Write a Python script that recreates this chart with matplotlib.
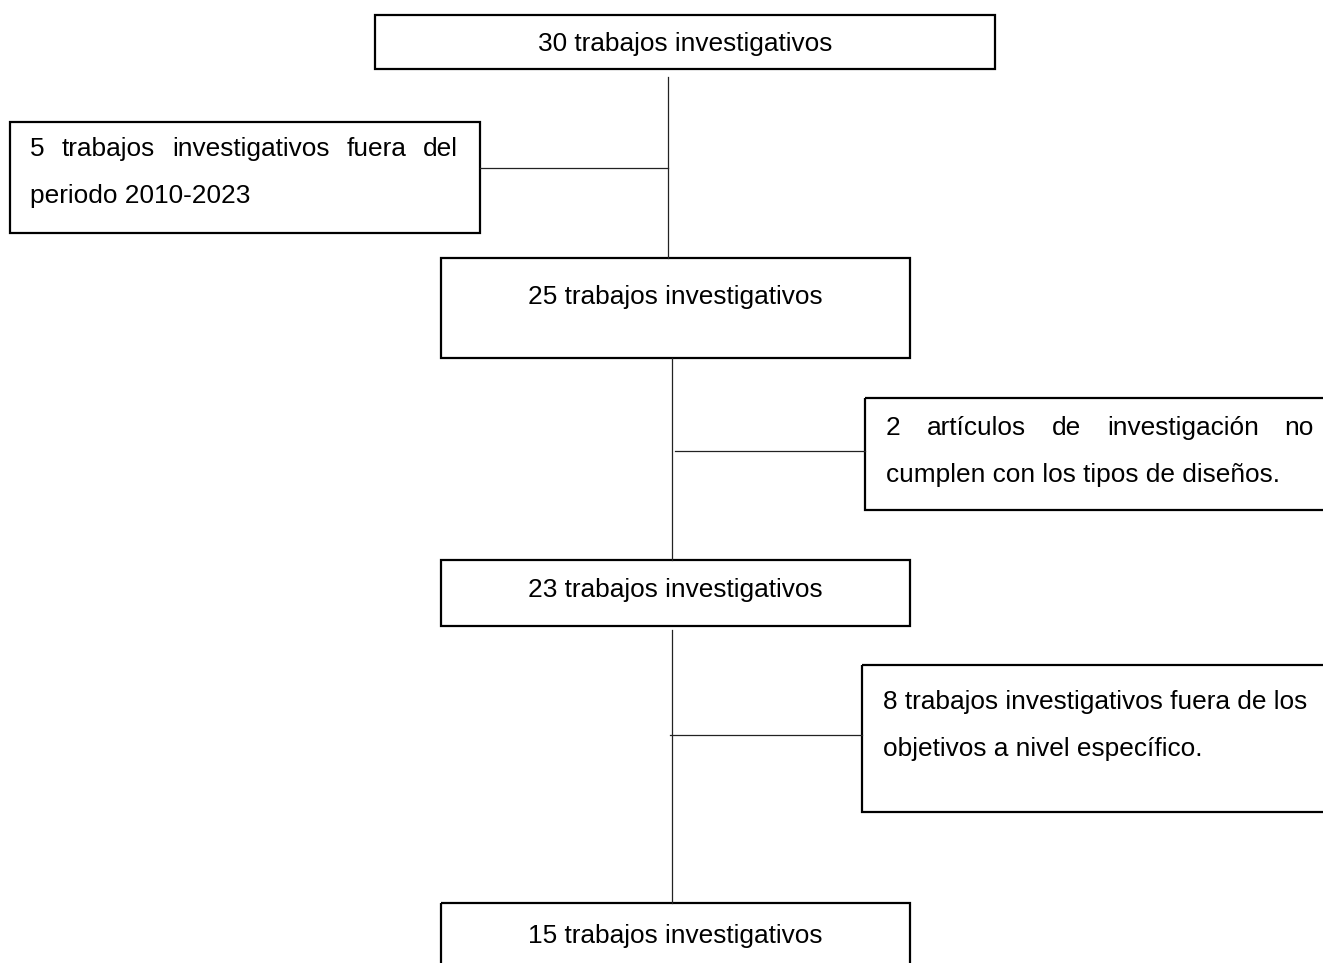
import matplotlib
matplotlib.use("Agg")
import matplotlib.pyplot as plt
from matplotlib.patches import Rectangle

# ---- content ----
main_labels = ["30 trabajos investigativos", "25 trabajos investigativos",
               "23 trabajos investigativos", "15 trabajos investigativos"]
excl_labels = [
    ["5 trabajos investigativos fuera del", "periodo 2010-2023"],
    ["2 artículos de investigación no", "cumplen con los tipos de diseños."],
    ["8 trabajos investigativos fuera de los", "objetivos a nivel específico."],
]
excl_justify = [[True, False], [True, False], [False, False]]

# ---- layout (pixel space, y downward) ----
W, H = 1323, 963
main_boxes = [(375, 15, 995, 69), (441, 258, 910, 358),
              (441, 560, 910, 626), (441, 903, 910, 990)]
main_text_y = [44, 297, 590, 936]
excl_boxes = [(10, 122, 480, 233), (865, 398, 1330, 510), (862, 665, 1330, 812)]
excl_text_x = [(30, 458), (886, 1314), (883, 1310)]
excl_text_y = [[149, 196], [428, 475], [702, 749]]
vlines = [(668, 77, 258), (672, 358, 560), (672, 630, 903)]
hlines = [(480, 668, 168), (675, 865, 451), (670, 862, 735)]

FS = 18.9
FAM = ["Liberation Sans", "DejaVu Sans"]

fig = plt.figure(figsize=(W / 100, H / 100), dpi=100)
ax = fig.add_axes([0, 0, 1, 1])
ax.set_xlim(0, W)
ax.set_ylim(H, 0)
ax.axis("off")

for (x0, y0, x1, y1) in main_boxes + excl_boxes:
    ax.add_patch(Rectangle((x0, y0), x1 - x0, y1 - y0, fill=False,
                           edgecolor="black", lw=1.6, zorder=2))
for (x, y0, y1) in vlines:
    ax.plot([x, x], [y0, y1], color="#222222", lw=0.9)
for (x0, x1, y) in hlines:
    ax.plot([x0, x1], [y, y], color="#222222", lw=0.9)

for lab, (x0, y0, x1, y1), ty in zip(main_labels, main_boxes, main_text_y):
    ax.text((x0 + x1) / 2, ty, lab, ha="center", va="center",
            fontsize=FS, family=FAM)

fig.canvas.draw()
renderer = fig.canvas.get_renderer()

def text_width(s):
    t = ax.text(0, 0, s, fontsize=FS, family=FAM)
    bb = t.get_window_extent(renderer=renderer)
    t.remove()
    return bb.width

for lines, (left, right), tys, just in zip(excl_labels, excl_text_x,
                                           excl_text_y, excl_justify):
    for line, ty, j in zip(lines, tys, just):
        if j:
            words = line.split()
            widths = [text_width(w) for w in words]
            gap = (right - left - sum(widths)) / (len(words) - 1)
            x = left
            for w, wd in zip(words, widths):
                ax.text(x, ty, w, ha="left", va="center",
                        fontsize=FS, family=FAM)
                x += wd + gap
        else:
            ax.text(left, ty, line, ha="left", va="center",
                    fontsize=FS, family=FAM)

fig.savefig("out.png", dpi=100, facecolor="white")
